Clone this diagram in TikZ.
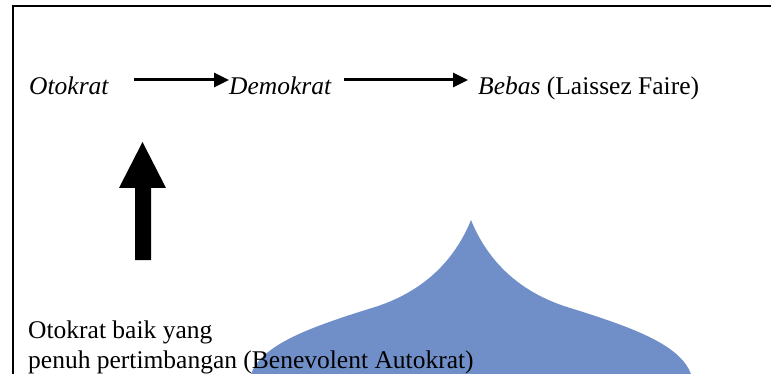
\documentclass[tikz,border=0pt]{standalone}
\usepackage{fontspec}
\setmainfont{Liberation Serif}
\usepackage{tikz}
\usetikzlibrary{arrows.meta}
\definecolor{domeblue}{RGB}{112,142,200}

\begin{document}
\begin{tikzpicture}[x=1pt, y=-1pt,
		lbl/.style = {inner sep=0, anchor=base west, font=\fontsize{25.5}{30}\selectfont},
		flow/.style = {-{Triangle[length=15pt,width=14pt]}, line width=3pt, black}]
		\useasboundingbox (0,0) rectangle (771,374);
		\draw[line width=2pt, black](771,6) -- (13,6) -- (13,374);
		\fill[domeblue](471,220) .. controls (488,262) and (520,292) .. (567,307)
			.. controls (635,328) and (680,345) .. (691,374) -- (251,374)
			.. controls (262,345) and (307,328) .. (375,307)
			.. controls (422,292) and (454,262) .. (471,220) -- cycle;
		\node[lbl] (otokrat) at (29,95) {\textit{Otokrat}};
		\node[lbl] (demokrat) at (229,95) {\textit{Demokrat}};
		\node[lbl] (bebas) at (478,95) {\textit{Bebas} (Laissez Faire)};
		\draw[flow]([xshift=25pt,yshift=15pt]otokrat.base east) -- ([yshift=15pt]demokrat.base west);
		\draw[flow]([xshift=12pt,yshift=15pt]demokrat.base east) -- ([xshift=-10pt,yshift=15pt]bebas.base west);
		\fill[black](135,260) -- (135,188) -- (119,188) -- (142.5,142) -- (166,188) -- (151,188) -- (151,260) -- cycle;
		\node[lbl, align=left] (benevolent) at (28,368) {Otokrat baik yang\\penuh pertimbangan (Benevolent Autokrat)};
	\end{tikzpicture}
\end{document}
